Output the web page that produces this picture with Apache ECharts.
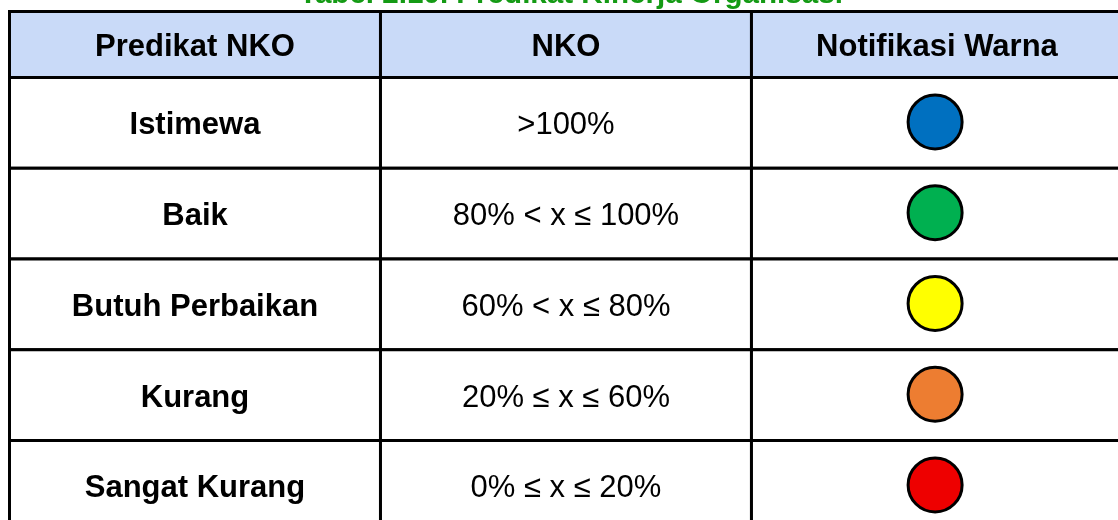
<!DOCTYPE html>
<html>
<head>
<meta charset="utf-8">
<script src="https://cdn.jsdelivr.net/npm/echarts@6/dist/echarts.min.js"></script>
<style>
html,body{margin:0;padding:0;background:#fff;}
#chart{width:1118px;height:520px;}
</style>
</head>
<body>
<div id="chart"></div>
<script>
const title = 'Tabel 2.10. Predikat Kinerja Organisasi';
const headers = ['Predikat NKO', 'NKO', 'Notifikasi Warna'];
const predikat = ['Istimewa', 'Baik', 'Butuh Perbaikan', 'Kurang', 'Sangat Kurang'];
const nko = ['>100%', '80% < x \u2264 100%', '60% < x \u2264 80%', '20% \u2264 x \u2264 60%', '0% \u2264 x \u2264 20%'];
const warna = ['#0070c0', '#00b050', '#ffff00', '#ed7d31', '#ee0000'];

const FONT = '"Liberation Sans", Arial, sans-serif';
const chart = echarts.init(document.getElementById('chart'));

function cellRenderer(fill, getText, fontWeight) {
  return function (params, api) {
    const col = api.value(0);
    const row = api.value(1);
    const p0 = api.coord([col, row]);
    const p1 = api.coord([col + 1, row + 1]);
    const x = Math.min(p0[0], p1[0]), w = Math.abs(p1[0] - p0[0]);
    const y = Math.min(p0[1], p1[1]), h = Math.abs(p1[1] - p0[1]);
    const txt = getText(params.dataIndex);
    const fw = fontWeight(col);
    return {
      type: 'group',
      children: [
        { type: 'rect', shape: { x: x, y: y, width: w, height: h },
          style: { fill: fill, stroke: '#000', lineWidth: 3 } },
        { type: 'text', x: x + w / 2, y: y + h / 2 + 3,
          style: { text: txt, fill: '#000', font: fw + ' 31px ' + FONT,
                   align: 'center', verticalAlign: 'middle' } }
      ]
    };
  };
}

const headerData = headers.map((h, i) => [i, 0]);
const bodyData = [];
predikat.forEach((p, r) => { for (let c = 0; c < 3; c++) bodyData.push([c, r]); });
const bodyText = bodyData.map(d => d[0] === 0 ? predikat[d[1]] : (d[0] === 1 ? nko[d[1]] : ''));

chart.setOption({
  animation: false,
  backgroundColor: '#fff',
  title: {
    text: title, left: 294, top: -25,
    textStyle: { color: '#149a14', fontSize: 29.6, fontWeight: 'bold', fontFamily: FONT }
  },
  grid: [
    { left: 9.5, top: 11.5, right: 0, height: 66 },
    { left: 9.5, top: 77.5, right: 0, bottom: 0 }
  ],
  xAxis: [
    { gridIndex: 0, type: 'value', min: 0, max: 2.988, show: false },
    { gridIndex: 1, type: 'value', min: 0, max: 2.988, show: false }
  ],
  yAxis: [
    { gridIndex: 0, type: 'value', min: 0, max: 1, inverse: true, show: false },
    { gridIndex: 1, type: 'value', min: 0, max: 4.876, inverse: true, show: false }
  ],
  series: [
    { type: 'custom', xAxisIndex: 0, yAxisIndex: 0, data: headerData, clip: false,
      renderItem: cellRenderer('#c9daf8', i => headers[i], c => 'bold') },
    { type: 'custom', xAxisIndex: 1, yAxisIndex: 1, data: bodyData, clip: false,
      renderItem: cellRenderer('#ffffff', i => bodyText[i], c => c === 0 ? 'bold' : 'normal') },
    { type: 'scatter', xAxisIndex: 1, yAxisIndex: 1, symbol: 'circle', symbolSize: 54, z: 5,
      data: warna.map((c, r) => ({ value: [2.495, r + 0.49], itemStyle: { color: c } })),
      itemStyle: { borderColor: '#000', borderWidth: 3, opacity: 1 } }
  ]
});
</script>
</body>
</html>
